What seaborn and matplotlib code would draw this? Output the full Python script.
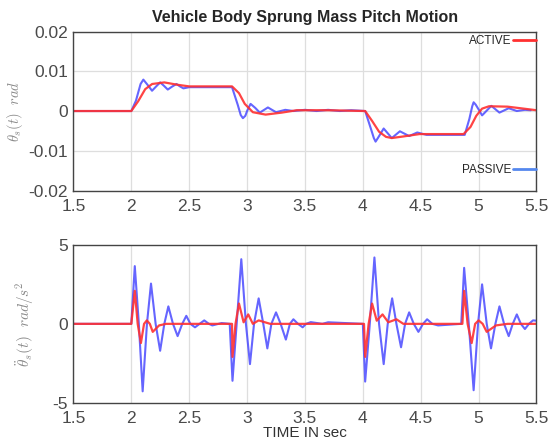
import matplotlib
matplotlib.use("Agg")
import matplotlib.pyplot as plt
import seaborn as sns
import pandas as pd
from matplotlib.lines import Line2D

# ---- pitch angle (rad) ----
t_pas_top = [1.5, 2.0, 2.04, 2.08, 2.104, 2.14, 2.179, 2.215, 2.249, 2.28, 2.315, 2.35, 2.39, 2.42, 2.45,
             2.5, 2.87, 2.92, 2.945, 2.964, 2.985, 3.0, 3.03, 3.07, 3.11, 3.18, 3.25, 3.33, 3.4, 3.5,
             3.6, 3.7, 3.8, 3.9, 4.02, 4.07, 4.095, 4.11, 4.13, 4.18, 4.25, 4.32, 4.40, 4.47, 4.55,
             4.88, 4.92, 4.945, 4.957, 4.975, 5.0, 5.03, 5.11, 5.18, 5.26, 5.33, 5.4, 5.45]
th_pas = [0, 0, 0.0026, 0.0068, 0.0079, 0.0066, 0.0051, 0.0062, 0.0072, 0.0064, 0.0054, 0.0061, 0.0068, 0.0062, 0.0057,
          0.006, 0.006, 0.0015, -0.001, -0.0018, -0.0012, 0.0, 0.0018, 0.0008, -0.0004, 0.0009, -0.0003, 0.0003, 0.0, 0.0003,
          0.0, 0.0003, 0.0, 0.0002, 0.0, -0.0045, -0.0068, -0.0077, -0.0068, -0.0044, -0.0068, -0.0051, -0.0063, -0.0054, -0.006,
          -0.006, -0.002, 0.0012, 0.0022, 0.0016, 0.0004, -0.0011, 0.0013, -0.0004, 0.0007, 0.0, 0.0003, 0.0002]

t_act_top = [1.5, 2.0, 2.06, 2.12, 2.18, 2.285, 2.4, 2.5, 2.87, 2.93, 2.98, 3.05,
             3.16, 3.3, 3.43, 3.7, 4.02, 4.08, 4.14, 4.2, 4.25, 4.35, 4.49, 4.87,
             4.93, 4.98, 5.03, 5.09, 5.25, 5.39, 5.5]
th_act = [0, 0, 0.0025, 0.0055, 0.0068, 0.0072, 0.0066, 0.0062, 0.0062, 0.0045, 0.0018, -0.0003,
          -0.0009, -0.0004, 0.0002, 0.0002, 0.0, -0.0025, -0.0052, -0.0065, -0.0068, -0.0064, -0.0058, -0.0058,
          -0.004, -0.0012, 0.0006, 0.0012, 0.0011, 0.0006, 0.0002]

# ---- pitch acceleration (rad/s^2) ----
t_pas_bot = [1.5, 2.0, 2.03, 2.065, 2.098, 2.135, 2.17, 2.21, 2.249, 2.285, 2.32, 2.36,
             2.40, 2.44, 2.475, 2.51, 2.55, 2.59, 2.63, 2.67, 2.70, 2.78, 2.85,
             2.874, 2.91, 2.95, 2.99, 3.025, 3.06, 3.10, 3.14, 3.175, 3.21, 3.25, 3.29,
             3.335, 3.37, 3.40, 3.44, 3.48, 3.51, 3.55, 3.65, 3.7, 4.0,
             4.02, 4.06, 4.10, 4.14, 4.18, 4.215, 4.253, 4.29, 4.33, 4.365, 4.40, 4.44,
             4.48, 4.52, 4.555, 4.6, 4.65, 4.85,
             4.875, 4.915, 4.957, 4.995, 5.03, 5.07, 5.107, 5.145, 5.18, 5.22, 5.26,
             5.295, 5.33, 5.365, 5.40, 5.435, 5.47, 5.5]
dd_pas = [0, 0, 3.67, 0, -4.29, 0, 2.56, 0, -1.71, 0, 1.11, 0,
          -0.78, 0, 0.51, 0, -0.22, 0, 0.22, 0, -0.1, 0.05, 0,
          -3.62, 0, 4.11, 0, -2.56, 0, 1.62, 0, -1.56, 0, 0.73, 0,
          -1.0, 0, 0.29, 0, -0.22, 0, 0.11, 0, 0.1, 0,
          -3.67, 0, 4.22, 0, -2.56, 0, 1.62, 0, -1.49, 0, 0.73, 0,
          -0.51, 0, 0.29, 0, -0.1, 0,
          3.56, 0, -4.22, 0, 2.51, 0, -1.56, 0, 1.11, 0, -0.78,
          0, 0.6, 0, -0.33, 0, 0.22, 0.2]

t_act_bot = [1.5, 2.0, 2.03, 2.055, 2.083, 2.11, 2.134, 2.16, 2.185, 2.24, 2.3, 2.87,
             2.874, 2.90, 2.93, 2.97, 3.01, 3.05, 3.1, 3.2, 4.01,
             4.02, 4.05, 4.08, 4.12, 4.17, 4.22, 4.29, 4.35, 4.86,
             4.875, 4.905, 4.94, 4.97, 5.0, 5.035, 5.07, 5.15, 5.25, 5.5]
dd_act = [0, 0, 2.1, 0, -1.22, 0, 0.22, 0, -0.51, -0.1, 0, 0,
          -2.1, 0, 1.29, 0.1, 0.6, 0, 0.22, 0, 0,
          -2.1, 0, 1.29, 0.2, 0.6, 0.1, 0.29, 0, 0,
          2.1, 0, -1.22, 0, 0.22, 0, -0.51, -0.1, 0, 0]

xticks = [1.5, 2, 2.5, 3, 3.5, 4, 4.5, 5, 5.5]
yticks_top = [-0.02, -0.01, 0, 0.01, 0.02]
yticks_bot = [-5, 0, 5]

BLUE = "#4a4aff"
RED = "#ff3030"

sns.set_style("white")
plt.rcParams["font.family"] = ["Liberation Sans", "DejaVu Sans"]
plt.rcParams["mathtext.fontset"] = "cm"

fig = plt.figure(figsize=(5.48, 4.41), dpi=100)
ax1 = fig.add_axes([0.134, 0.568, 0.845, 0.3605])
ax2 = fig.add_axes([0.134, 0.0873, 0.845, 0.3567])

top_pas = pd.DataFrame({"t": t_pas_top, "v": th_pas})
top_act = pd.DataFrame({"t": t_act_top, "v": th_act})
bot_pas = pd.DataFrame({"t": t_pas_bot, "v": dd_pas})
bot_act = pd.DataFrame({"t": t_act_bot, "v": dd_act})

kw = dict(estimator=None, solid_joinstyle="round")
sns.lineplot(data=top_pas, x="t", y="v", ax=ax1, color=BLUE, lw=1.5, alpha=0.85, **kw)
sns.lineplot(data=top_act, x="t", y="v", ax=ax1, color=RED, lw=1.6, alpha=0.9, **kw)
sns.lineplot(data=bot_pas, x="t", y="v", ax=ax2, color=BLUE, lw=1.5, alpha=0.85, **kw)
sns.lineplot(data=bot_act, x="t", y="v", ax=ax2, color=RED, lw=1.6, alpha=0.9, **kw)

for ax, yt in ((ax1, yticks_top), (ax2, yticks_bot)):
    ax.set_xlim(1.5, 5.5)
    ax.set_ylim(yt[0], yt[-1])
    ax.set_xticks(xticks)
    ax.set_xticklabels(["%g" % v for v in xticks])
    ax.set_yticks(yt)
    ax.set_yticklabels(["%g" % v for v in yt])
    ax.grid(True, color="#dedede", lw=0.9)
    ax.set_axisbelow(True)
    ax.tick_params(direction="in", length=3, colors="#4a4a4a", labelsize=12.5)
    ax.tick_params(axis="x", pad=6)
    ax.tick_params(axis="y", pad=4)
    for s in ax.spines.values():
        s.set_color("#444444")
        s.set_linewidth(1.0)
    ax.set_xlabel("")

ax2.yaxis.grid(False)
ax1.set_title("Vehicle Body Sprung Mass Pitch Motion", fontsize=11.5, fontweight="bold", pad=7)
ax1.set_ylabel(r"$\theta_s(t)\ \ rad$", fontsize=10.5, color="#8a8a8a", labelpad=2)
ax2.set_ylabel(r"$\ddot{\theta}_s(t)\ \ rad/s^2$", fontsize=11, color="#8a8a8a", labelpad=12)
ax2.set_xlabel("TIME IN sec", fontsize=11, color="#333333", labelpad=0)

h_act = Line2D([], [], color=RED, lw=2)
h_pas = Line2D([], [], color="#5588ee", lw=2)
leg1 = ax1.legend([h_act], ["ACTIVE"], loc="center right", bbox_to_anchor=(1.0, 0.94),
                  frameon=False, markerfirst=False, handlelength=2.0, handletextpad=0.1,
                  borderpad=0, borderaxespad=0, fontsize=8.5)
ax1.add_artist(leg1)
ax1.legend([h_pas], ["PASSIVE"], loc="center right", bbox_to_anchor=(1.0, 0.13),
           frameon=False, markerfirst=False, handlelength=2.0, handletextpad=0.1,
           borderpad=0, borderaxespad=0, fontsize=8.5)

fig.savefig("out.png", dpi=100)
